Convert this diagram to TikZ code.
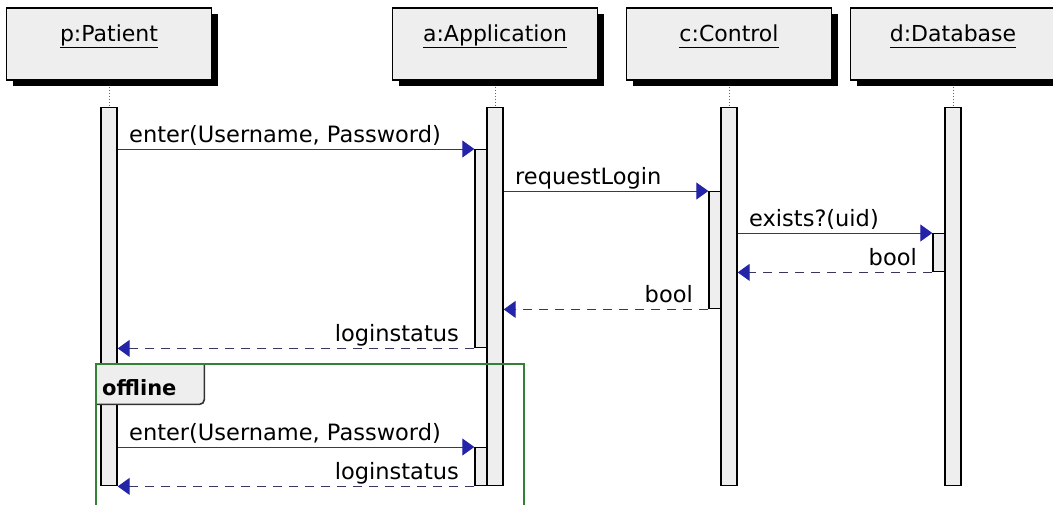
\documentclass[tikz,border=0pt]{standalone}
\usepackage{fontspec}
\newfontfamily\seqfont{DejaVu Sans}
\usetikzlibrary{                          % TikZ libraries
                arrows.meta,              % .
                shadows,                  % .
                calc}
\usepackage{xcolor}
\definecolor{barfill}{RGB}{238,238,238}
\definecolor{arrowblue}{RGB}{36,36,168}
\definecolor{msgline}{RGB}{55,55,95}
\definecolor{fragment}{RGB}{52,128,52}
\newcommand\objname[1]{\underline{#1\vphantom{p}}}

\begin{document}
\begin{tikzpicture}[x=1pt,y=-1pt,
                    font=\seqfont\fontsize{22.5}{27}\selectfont
                    ]
\useasboundingbox (0,0) rectangle (1053,504);
                % define styles
\tikzset{head/.style={rectangle,
                       draw=black,
                       line width=1.2pt,
                       fill=barfill,
                       inner sep=0,
                       minimum width=205pt,
                       minimum height=72pt,
                       text height=16pt,
                       text depth=22pt,
                       font=\seqfont\fontsize{22}{26}\selectfont,
                       general shadow={fill=black,shadow xshift=6pt,shadow yshift=-6pt},
                       },
         bar/.style={rectangle,
                       draw=black,
                       line width=1.4pt,
                       fill=barfill,
                       inner sep=0,
                       anchor=north,
                       minimum width=16pt,
                       minimum height=378pt,
                       },
         nest/.style={bar,
                       minimum width=12pt,
                       },
         lifeline/.style={draw=black!60, dotted, line width=1pt},
         call/.style={draw=msgline, line width=1pt,
                       -{Triangle[length=12pt,width=17pt,color=arrowblue,fill=arrowblue]}},
         reply/.style={call, dash pattern=on 9pt off 7pt},
         callnote/.style={anchor=base west, inner sep=0, xshift=11pt, yshift=7pt},
         replynote/.style={anchor=base east, inner sep=0, xshift=-15pt, yshift=7pt},
         tab/.style={rectangle,
                       fill=barfill,
                       anchor=north west,
                       inner xsep=6pt,
                       inner ysep=0,
                       text width=96pt,
                       minimum height=40pt,
                       text height=22pt,
                       text depth=0pt,
                       font=\seqfont\bfseries\fontsize{21}{25}\selectfont,
                       }
}

% objects, lifelines and bars
\foreach \name/\x/\txt in {p/109/p:Patient, a/495/a:Application, c/729/c:Control, d/953/d:Database}{
    \node[head] (\name) at (\x,44) {\objname{\txt}};
    \node[bar]  (\name-bar) at (\x,107) {};
    \draw[lifeline] ([yshift=-6pt]\name.south) -- (\name-bar.north);
}

% nested activations
\node[nest, minimum height=198pt] (a-nest1) at (481,149) {};
\node[nest, minimum height=38pt]  (a-nest2) at (481,447) {};
\node[nest, minimum height=117pt] (c-nest)  at (715,191) {};
\node[nest, minimum height=38pt]  (d-nest)  at (939,233) {};

% messages
\draw[call]  (p-bar.east |- a-nest1.north) -- (a-nest1.north west)
    node[callnote, pos=0] {enter(Username, Password)};
\draw[call]  (a-bar.east |- c-nest.north) -- (c-nest.north west)
    node[callnote, pos=0] {requestLogin};
\draw[call]  (c-bar.east |- d-nest.north) -- (d-nest.north west)
    node[callnote, pos=0] {exists?(uid)};
\draw[reply] (d-nest.south west) -- (c-bar.east |- d-nest.south)
    node[replynote, pos=0] {bool};
\draw[reply] (c-nest.south west) -- (a-bar.east |- c-nest.south)
    node[replynote, pos=0] {bool};
\draw[reply] (a-nest1.south west) -- (p-bar.east |- a-nest1.south)
    node[replynote, pos=0] {loginstatus};

% offline fragment
\coordinate (frame-nw) at (96,364);
\coordinate (frame-se) at (524,514);
\node[tab] (offline) at (frame-nw) {offline};
\draw[black!80, line width=1.6pt, rounded corners=5pt]
    (offline.north east) -- (offline.south east) -- (offline.south west);
\draw[fragment, line width=2.2pt] (frame-nw) rectangle (frame-se);

\draw[call]  (p-bar.east |- a-nest2.north) -- (a-nest2.north west)
    node[callnote, pos=0] {enter(Username, Password)};
\draw[reply] (a-nest2.south west) -- (p-bar.east |- a-nest2.south)
    node[replynote, pos=0] {loginstatus};
\end{tikzpicture}
\end{document}
